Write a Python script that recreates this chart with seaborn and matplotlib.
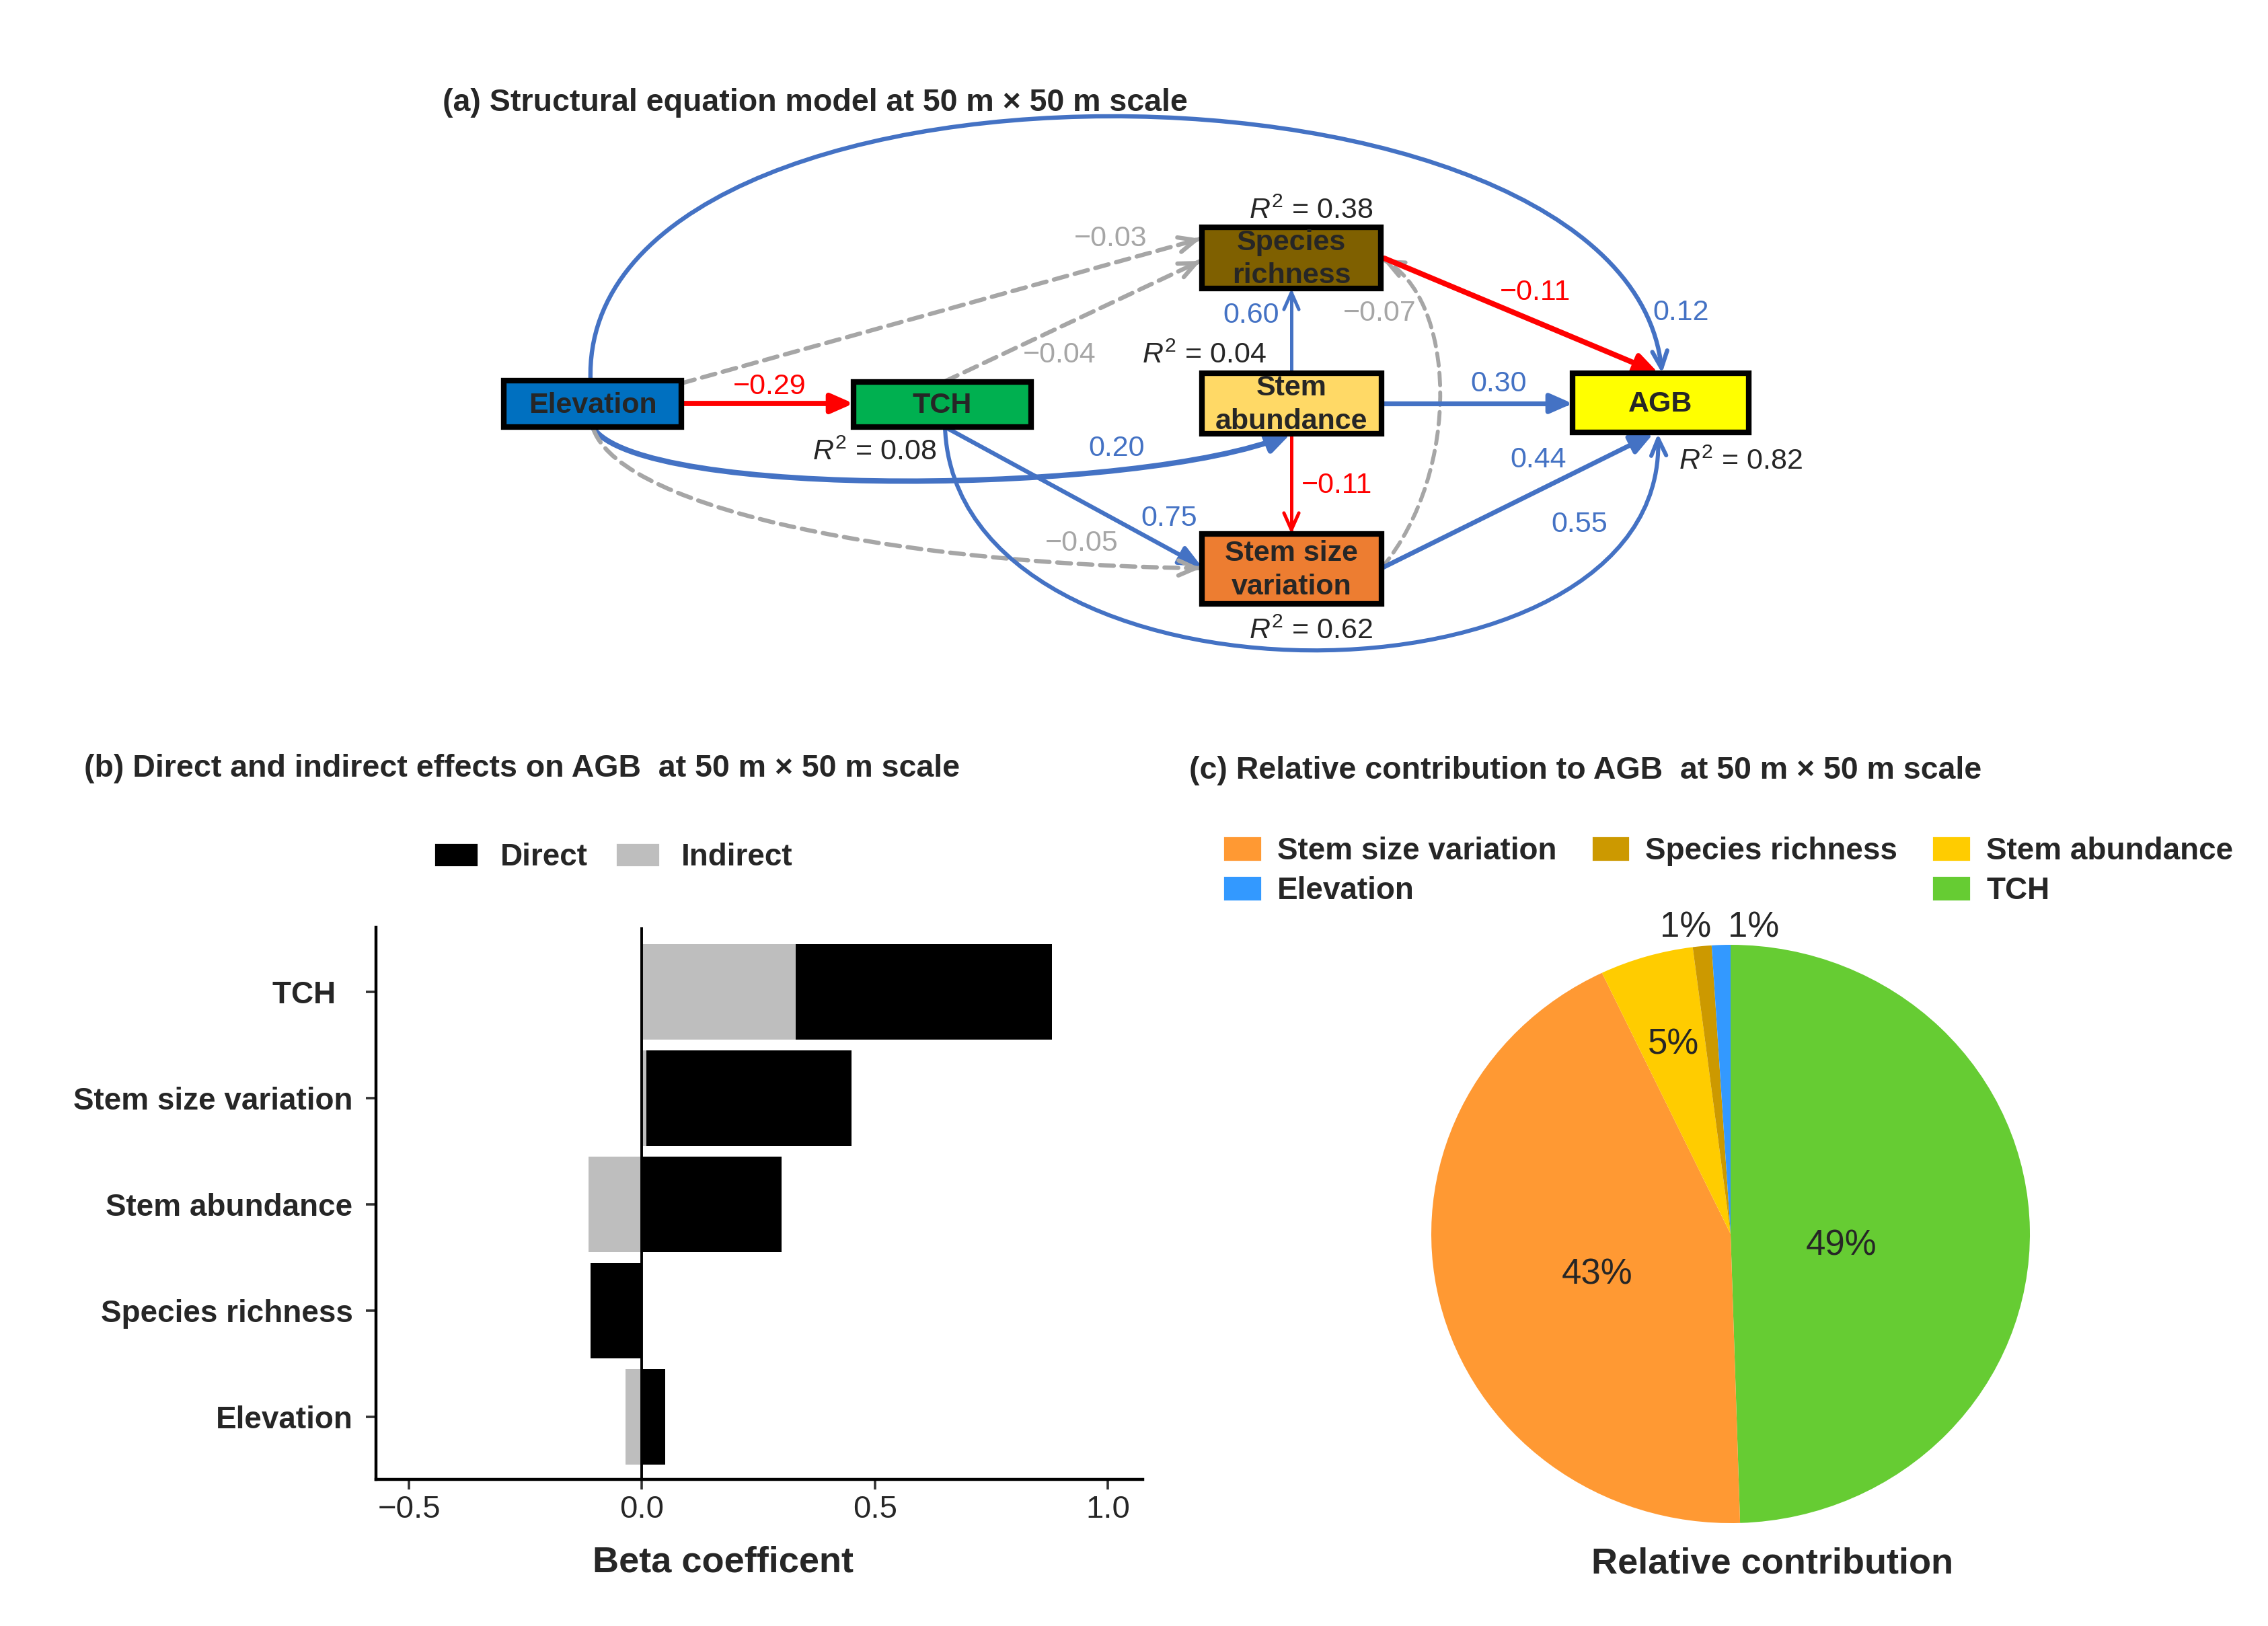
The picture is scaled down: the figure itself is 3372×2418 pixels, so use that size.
import numpy as np
import pandas as pd
import matplotlib
matplotlib.use("Agg")
import matplotlib.pyplot as plt
import seaborn as sns
from matplotlib.patches import Rectangle, FancyArrowPatch, Patch
from matplotlib.path import Path

# ------------------------------------------------------------------ data
node_names = ["Elevation", "TCH", "Species richness", "Stem abundance",
              "Stem size variation", "AGB"]
node_texts = ["Elevation", "TCH", "Species\nrichness", "Stem\nabundance",
              "Stem size\nvariation", "AGB"]

r2_nodes = ["TCH", "Species richness", "Stem abundance", "Stem size variation", "AGB"]
r2_values = [0.08, 0.38, 0.04, 0.62, 0.82]

path_from = ["Elevation", "Elevation", "TCH", "Stem abundance", "Stem size variation",
             "Species richness", "Elevation", "Stem abundance", "Elevation",
             "Stem abundance", "Stem size variation", "TCH", "Elevation", "TCH"]
path_to = ["TCH", "Species richness", "Species richness", "Species richness",
           "Species richness", "AGB", "AGB", "AGB", "Stem abundance",
           "Stem size variation", "AGB", "Stem size variation", "Stem size variation", "AGB"]
path_coef = [-0.29, -0.03, -0.04, 0.60, -0.07, -0.11, 0.12, 0.30, 0.20,
             -0.11, 0.44, 0.75, -0.05, 0.55]
path_sig = [True, False, False, True, False, True, True, True, True,
            True, True, True, False, True]

effect_vars = ["TCH", "Stem size variation", "Stem abundance", "Species richness", "Elevation"]
effect_ticklabels = ["TCH  ", "Stem size variation", "Stem abundance", "Species richness", "Elevation"]
direct_effect = [0.55, 0.44, 0.30, -0.11, 0.05]
indirect_effect = [0.33, 0.01, -0.115, 0.00, -0.035]

contrib_vars = ["TCH", "Stem size variation", "Stem abundance", "Species richness", "Elevation"]
contrib_pct = [49, 43, 5, 1, 1]

# ------------------------------------------------------------------ layout / style
W, H = 3373, 2418
DPI = 200
sns.set_theme(style="white")
plt.rcParams["font.family"] = ["Liberation Sans", "DejaVu Sans"]
plt.rcParams["mathtext.fontset"] = "custom"
plt.rcParams["mathtext.rm"] = "Liberation Sans"
plt.rcParams["mathtext.it"] = "Liberation Sans:italic"
plt.rcParams["mathtext.bf"] = "Liberation Sans:bold"

BLUE, RED, GREY = "#4472C4", "#FF0000", "#A6A6A6"

node_box = {
    "Elevation": (749, 566, 1013, 635),
    "TCH": (1269, 568, 1533, 635),
    "Species richness": (1787, 338, 2053, 429),
    "Stem abundance": (1787, 555, 2054, 645),
    "Stem size variation": (1787, 794, 2054, 898),
    "AGB": (2338, 555, 2600, 643),
}
node_fill = {
    "Elevation": "#0070C0", "TCH": "#00B050", "Species richness": "#7F6000",
    "Stem abundance": "#FFD966", "Stem size variation": "#ED7D31", "AGB": "#FFFF00",
}
r2_xy = {"TCH": (1300, 673), "Species richness": (1949, 314), "Stem abundance": (1791, 529),
         "Stem size variation": (1949, 939), "AGB": (2588, 687)}

path_geom = [
    [(1013, 600), (1269, 600)],
    [(1013, 570), (1785, 355)],
    [(1405, 567), (1785, 388)],
    [(1920, 555), (1920, 429)],
    [(2054, 845), (2175, 700), (2165, 440), (2056, 386)],
    [(2058, 384), (2466, 555)],
    [(878, 566), (860, 40), (2420, 50), (2471, 555)],
    [(2054, 600), (2338, 600)],
    [(881, 635), (950, 745), (1700, 735), (1919, 645)],
    [(1920, 645), (1920, 794)],
    [(2054, 845), (2458, 645)],
    [(1405, 635), (1787, 843)],
    [(883, 640), (930, 760), (1350, 840), (1785, 845)],
    [(1405, 635), (1420, 1075), (2480, 1075), (2465, 645)],
]
path_lw = [2.8, 2.3, 2.3, 1.8, 2.1, 2.9, 2.3, 2.6, 2.9, 1.8, 2.5, 2.3, 2.3, 2.2]
path_thick_head = [True, False, False, False, False, True, False, True, True,
                   False, True, True, False, False]
path_label_xy = [(1144, 575), (1651, 355), (1575, 528), (1860, 469), (2051, 466),
                 (2283, 435), (2499, 465), (2228, 571), (1660, 667), (1988, 722),
                 (2287, 684), (1738, 771), (1608, 808), (2348, 780)]

fig = plt.figure(figsize=(W / DPI, H / DPI), dpi=DPI)
canvas = fig.add_axes([0, 0, 1, 1])
canvas.set_xlim(0, W)
canvas.set_ylim(H, 0)
canvas.axis("off")

FS_BOX = 15.5
FS_TITLE = 16.75

# ---------------- panel (a)
canvas.text(658, 153, "(a) Structural equation model at 50 m \u00d7 50 m scale",
            ha="left", va="center", weight="bold", size=FS_TITLE)

for name, txt in zip(node_names, node_texts):
    x0, y0, x1, y1 = node_box[name]
    canvas.add_patch(Rectangle((x0, y0), x1 - x0, y1 - y0, facecolor=node_fill[name],
                               edgecolor="black", lw=3.0, zorder=4))
    canvas.text((x0 + x1) / 2, (y0 + y1) / 2 + 2, txt, ha="center", va="center",
                weight="bold", size=FS_BOX, linespacing=1.3, zorder=5)

for name, val in zip(r2_nodes, r2_values):
    x, y = r2_xy[name]
    canvas.text(x, y, r"$R^2$" + f" = {val:.2f}", ha="center", va="center",
                size=FS_BOX, zorder=5)

HEAD_THICK = "-|>,head_length=0.5,head_width=0.22"
HEAD_THIN = "->,head_length=0.45,head_width=0.2"

for i in range(len(path_coef)):
    coef, sig = path_coef[i], path_sig[i]
    color = GREY if not sig else (BLUE if coef > 0 else RED)
    pts = np.array(path_geom[i], dtype=float)
    codes = [Path.MOVETO] + ([Path.LINETO] if len(pts) == 2 else [Path.CURVE4] * 3)
    head = HEAD_THICK if path_thick_head[i] else HEAD_THIN
    if sig:
        canvas.add_patch(FancyArrowPatch(path=Path(pts, codes), arrowstyle=head,
                                         mutation_scale=20, color=color, lw=path_lw[i],
                                         shrinkA=0, shrinkB=0, zorder=3))
    else:
        canvas.add_patch(FancyArrowPatch(path=Path(pts, codes), arrowstyle="-",
                                         color=color, lw=path_lw[i],
                                         linestyle=(0, (3.2, 1.8)),
                                         shrinkA=0, shrinkB=0, zorder=3))
        d = pts[-1] - pts[-2]
        d = d / np.linalg.norm(d)
        canvas.add_patch(FancyArrowPatch(posA=tuple(pts[-1] - d * 8), posB=tuple(pts[-1]),
                                         arrowstyle=HEAD_THIN, mutation_scale=20,
                                         color=color, lw=path_lw[i],
                                         shrinkA=0, shrinkB=0, zorder=3))
    lx, ly = path_label_xy[i]
    canvas.text(lx, ly, f"{coef:.2f}".replace("-", "\u2212"), ha="center", va="center",
                color=color, size=FS_BOX, zorder=5)

# ---------------- panel (b)
canvas.text(125, 1143, "(b) Direct and indirect effects on AGB  at 50 m \u00d7 50 m scale",
            ha="left", va="center", weight="bold", size=FS_TITLE)

df = pd.DataFrame({"var": effect_vars, "direct": direct_effect, "indirect": indirect_effect})
same = np.sign(df["direct"]) == np.sign(df["indirect"])
df["stack_end"] = np.where(same, df["direct"] + df["indirect"], df["direct"])

axb = fig.add_axes([559 / W, 1 - 2200 / H, (1699 - 559) / W, (2200 - 1379) / H])
sns.barplot(data=df, x="stack_end", y="var", order=effect_vars, color="black",
            saturation=1, width=0.9, errorbar=None, orient="h", ax=axb, linewidth=0)
sns.barplot(data=df, x="indirect", y="var", order=effect_vars, color="#BEBEBE",
            saturation=1, width=0.9, errorbar=None, orient="h", ax=axb, linewidth=0)
axb.axvline(0, color="black", lw=1.4, zorder=5)
axb.set_xlim(-0.571, 1.075)
axb.set_ylim(4.59, -0.61)
xt = [-0.5, 0.0, 0.5, 1.0]
axb.set_xticks(xt, labels=[f"{v:.1f}".replace("-", "\u2212") for v in xt])
axb.set_yticks(range(len(effect_vars)), labels=effect_ticklabels)
for lab in axb.get_yticklabels():
    lab.set_fontweight("bold")
    lab.set_fontsize(16.5)
for lab in axb.get_xticklabels():
    lab.set_fontsize(17)
axb.tick_params(axis="both", direction="out", length=5.4, width=1.3, color="#333333",
                bottom=True, left=True)
axb.tick_params(axis="y", pad=7)
axb.tick_params(axis="x", pad=3)
axb.set_ylabel("")
axb.set_xlabel("")
sns.despine(ax=axb)
for s in ["left", "bottom"]:
    axb.spines[s].set_linewidth(1.6)
    axb.spines[s].set_color("black")
axb.set_facecolor("none")
canvas.text(1075, 2323, "Beta coefficent", ha="center", va="center",
            weight="bold", size=19.5)

fig.legend(handles=[Patch(facecolor="black"), Patch(facecolor="#BEBEBE")],
           labels=["Direct", "Indirect"], ncol=2, frameon=False, loc="center left",
           bbox_to_anchor=(645 / W, 1 - 1275 / H), handlelength=1.45, handleheight=0.85,
           handletextpad=0.7, columnspacing=0.9, borderpad=0, borderaxespad=0,
           prop=dict(weight="bold", size=16.5))

# ---------------- panel (c)
canvas.text(1768, 1146, "(c) Relative contribution to AGB  at 50 m \u00d7 50 m scale",
            ha="left", va="center", weight="bold", size=FS_TITLE)

pie_colors = {"TCH": "#66CC33", "Stem size variation": "#FF9933",
              "Stem abundance": "#FFCC00", "Species richness": "#CC9900",
              "Elevation": "#3399FF"}
cx, cy, rx, ry = 2573, 1835, 445, 430
axc = fig.add_axes([(cx - 1.2 * rx) / W, 1 - (cy + 1.2 * ry) / H, 2.4 * rx / W, 2.4 * ry / H])
axc.pie(contrib_pct, colors=[pie_colors[v] for v in contrib_vars], startangle=90,
        counterclock=False, wedgeprops=dict(linewidth=0))
axc.set_aspect("auto")
axc.set_xlim(-1.2, 1.2)
axc.set_ylim(-1.2, 1.2)
pct_label_xy = [(0.37, -0.04), (-0.445, -0.14), (-0.19, 0.655), (-0.15, 1.06), (0.076, 1.06)]
for v, (x, y) in zip(contrib_pct, pct_label_xy):
    axc.text(x, y, f"{v:.0f}%", ha="center", va="center", size=19)

canvas.text(2635, 2325, "Relative contribution", ha="center", va="center",
            weight="bold", size=19.5)

leg_order = ["Stem size variation", "Elevation", "Species richness", None,
             "Stem abundance", "TCH"]
handles, labels = [], []
for v in leg_order:
    if v is None:
        handles.append(Patch(facecolor="none", edgecolor="none"))
        labels.append("")
    else:
        handles.append(Patch(facecolor=pie_colors[v]))
        labels.append(v)
fig.legend(handles=handles, labels=labels, ncol=3, frameon=False, loc="center left",
           bbox_to_anchor=(1818 / W, 1 - 1295 / H), handlelength=1.26, handleheight=0.89,
           handletextpad=0.5, columnspacing=1.12, labelspacing=0.32, borderpad=0,
           borderaxespad=0, prop=dict(weight="bold", size=16.5))

fig.savefig("out.png", dpi=DPI, facecolor="white")
